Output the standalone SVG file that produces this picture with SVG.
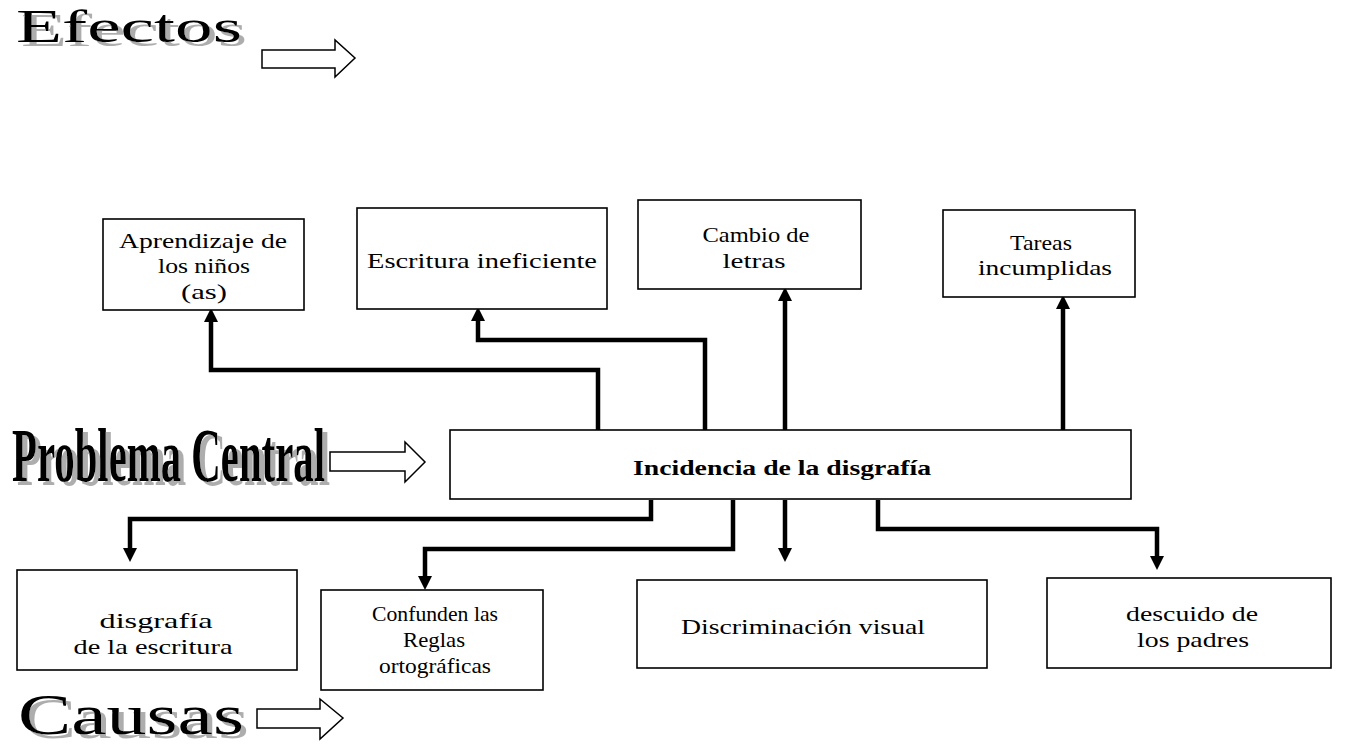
<svg xmlns="http://www.w3.org/2000/svg" width="1347" height="746" viewBox="0 0 1347 746">
<defs>
<style>
.box{fill:#fff;stroke:#000;stroke-width:1.6}
.t{font-family:"Liberation Serif","Times New Roman",serif;font-size:21px;fill:#000;text-anchor:middle}
.tb{font-family:"Liberation Serif","Times New Roman",serif;font-size:21px;font-weight:bold;fill:#000;text-anchor:middle}
.conn{fill:none;stroke:#000;stroke-width:4.5;stroke-linejoin:miter}
.blk{fill:#fff;stroke:#000;stroke-width:1.5}
.h{font-family:"Liberation Serif","Times New Roman",serif;fill:#000;filter:url(#sh)}
</style>
<filter id="sh" x="-10%" y="-20%" width="130%" height="150%">
<feOffset in="SourceAlpha" dx="5" dy="4" result="o"/>
<feFlood flood-color="#adadad"/>
<feComposite in2="o" operator="in" result="s"/>
<feMerge><feMergeNode in="s"/><feMergeNode in="SourceGraphic"/></feMerge>
</filter>
<marker id="ah" markerUnits="userSpaceOnUse" markerWidth="14" markerHeight="14" refX="0" refY="6.5" orient="auto" viewBox="0 0 13 13">
<path d="M0,0 L13,6.5 L0,13 z" fill="#000"/>
</marker>
</defs>
<rect width="1347" height="746" fill="#fff"/>

<g id="titulo-efectos">
<text class="h" x="16" y="42" font-size="46" textLength="226" lengthAdjust="spacingAndGlyphs">Efectos</text>
<polygon class="blk" points="262,50 335,50 335,40 355,58 335,77 335,68 262,68"/>
</g>

<g id="titulo-problema">
<text class="h" x="12" y="481" font-size="76" font-weight="bold" textLength="313" lengthAdjust="spacingAndGlyphs">Problema Central</text>
<polygon class="blk" points="330,452 405,452 405,442 425,462 405,482 405,471 330,471"/>
</g>

<g id="titulo-causas">
<text class="h" x="18" y="734" font-size="56" textLength="226" lengthAdjust="spacingAndGlyphs">Causas</text>
<polygon class="blk" points="257,709 320,709 320,699 343,718 320,739 320,728 257,728"/>
</g>

<g id="connectors">
<path class="conn" d="M598,430 V370 H211 V322" marker-end="url(#ah)"/>
<path class="conn" d="M705,430 V340 H478 V321" marker-end="url(#ah)"/>
<path class="conn" d="M785,430 V301" marker-end="url(#ah)"/>
<path class="conn" d="M1063,430 V309" marker-end="url(#ah)"/>
<path class="conn" d="M651,500 V519 H130 V548" marker-end="url(#ah)"/>
<path class="conn" d="M733,500 V549 H425 V576" marker-end="url(#ah)"/>
<path class="conn" d="M785,500 V548" marker-end="url(#ah)"/>
<path class="conn" d="M878,500 V529 H1157 V556" marker-end="url(#ah)"/>
</g>

<g id="n-aprendizaje">
<rect class="box" x="103" y="219" width="201" height="91"/>
<text class="t" x="203" y="248" textLength="168" lengthAdjust="spacingAndGlyphs">Aprendizaje de</text>
<text class="t" x="204" y="273" textLength="92" lengthAdjust="spacingAndGlyphs">los niños</text>
<text class="t" x="204" y="299" textLength="46" lengthAdjust="spacingAndGlyphs">(as)</text>
</g>

<g id="n-escritura">
<rect class="box" x="357" y="208" width="250" height="101"/>
<text class="t" x="482" y="268" textLength="230" lengthAdjust="spacingAndGlyphs">Escritura ineficiente</text>
</g>

<g id="n-cambio">
<rect class="box" x="638" y="200" width="223" height="89"/>
<text class="t" x="756" y="242" textLength="107" lengthAdjust="spacingAndGlyphs">Cambio de</text>
<text class="t" x="754" y="268" textLength="63" lengthAdjust="spacingAndGlyphs">letras</text>
</g>

<g id="n-tareas">
<rect class="box" x="943" y="210" width="192" height="87"/>
<text class="t" x="1041" y="250" textLength="62" lengthAdjust="spacingAndGlyphs">Tareas</text>
<text class="t" x="1045" y="275" textLength="134" lengthAdjust="spacingAndGlyphs">incumplidas</text>
</g>

<g id="n-incidencia">
<rect class="box" x="450" y="430" width="681" height="69"/>
<text class="tb" x="782" y="475" textLength="298" lengthAdjust="spacingAndGlyphs">Incidencia de la disgrafía</text>
</g>

<g id="n-disgrafia">
<rect class="box" x="17" y="570" width="280" height="100"/>
<text class="t" x="156" y="628" textLength="113" lengthAdjust="spacingAndGlyphs">disgrafía</text>
<text class="t" x="153" y="654" textLength="159" lengthAdjust="spacingAndGlyphs">de la escritura</text>
</g>

<g id="n-confunden">
<rect class="box" x="321" y="590" width="222" height="100"/>
<text class="t" x="435" y="621" textLength="126" lengthAdjust="spacingAndGlyphs">Confunden las</text>
<text class="t" x="434" y="647" textLength="62" lengthAdjust="spacingAndGlyphs">Reglas</text>
<text class="t" x="435" y="673" textLength="112" lengthAdjust="spacingAndGlyphs">ortográficas</text>
</g>

<g id="n-discriminacion">
<rect class="box" x="637" y="580" width="350" height="88"/>
<text class="t" x="803" y="634" textLength="244" lengthAdjust="spacingAndGlyphs">Discriminación visual</text>
</g>

<g id="n-descuido">
<rect class="box" x="1047" y="578" width="284" height="90"/>
<text class="t" x="1192" y="621" textLength="132" lengthAdjust="spacingAndGlyphs">descuido de</text>
<text class="t" x="1193" y="647" textLength="112" lengthAdjust="spacingAndGlyphs">los padres</text>
</g>
</svg>
